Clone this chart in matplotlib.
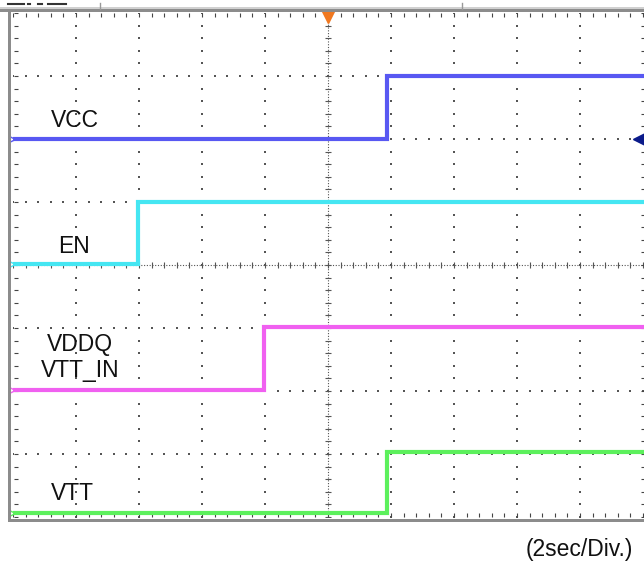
import matplotlib
matplotlib.use("Agg")
import matplotlib.pyplot as plt
import numpy as np

# scope screen: 10 horizontal divisions, 8 vertical divisions
channels = ["VCC", "EN", "VDDQ", "VTT"]
step_at = [5.94, 1.98, 3.98, 5.94]        # division where each rail turns on
low_level = [6.0, 4.02, 2.02, 0.07]       # divisions (ground reference of each channel)
high_level = [7.0, 5.0, 3.02, 1.03]
colors = ["#5858f2", "#45e6f2", "#f060f0", "#5cf05c"]
labels = ["VCC", "EN", "VDDQ\nVTT_IN", "VTT"]
label_pos = [(0.98, 6.19), (0.97, 4.19), (1.06, 2.22), (0.95, 0.27)]
time_note = "(2sec/Div.)"

W, H = 644, 566
X0, Y0, DIV = 13, 517, 63
XMAX = (W - X0) / DIV

plt.rcParams["font.family"] = ["Liberation Sans", "DejaVu Sans"]
fig = plt.figure(figsize=(W / 100, H / 100), dpi=100)
ax = fig.add_axes([X0 / W, (H - Y0) / H, (W - X0) / W, 8 * DIV / H])
ax.set_xlim(0, XMAX)
ax.set_ylim(0, 8)
ax.axis("off")

# grid dots on major lines
minor = np.arange(0, 10.01, 0.2)
minor_y = np.arange(0, 8.01, 0.2)
for gx in range(1, 10):
    if gx == 5:
        continue
    ax.scatter(np.full(len(minor_y), gx), minor_y, s=1.2, marker="s", color="#555555", lw=0, zorder=1)
for gy in range(1, 8):
    if gy == 4:
        continue
    ax.scatter(minor, np.full(len(minor), gy), s=1.2, marker="s", color="#555555", lw=0, zorder=1)

# centre cross with ticks
ax.plot([5, 5], [0, 8], ls=(0, (1, 1.5)), lw=0.8, color="#555555", zorder=1)
ax.plot([0, XMAX], [4, 4], ls=(0, (1, 1.5)), lw=0.8, color="#555555", zorder=1)
ax.scatter(np.full(len(minor_y), 5), minor_y, s=18, marker="_", color="#555555", lw=0.8, zorder=1)
ax.scatter(minor, np.full(len(minor), 4), s=18, marker="|", color="#555555", lw=0.8, zorder=1)

# border ticks
ax.scatter(minor, np.full(len(minor), 8 - 0.03), s=8, marker="|", color="#444444", lw=0.8, zorder=1)
ax.scatter(minor, np.full(len(minor), 0.03), s=8, marker="|", color="#444444", lw=0.8, zorder=1)
ax.scatter(np.full(len(minor_y), 0.04), minor_y, s=8, marker="_", color="#444444", lw=0.8, zorder=1)
ax.scatter(np.full(len(minor_y), XMAX - 0.02), minor_y, s=8, marker="_", color="#444444", lw=0.8, zorder=1)

# traces
for name, t, lo, hi, c in zip(channels, step_at, low_level, high_level, colors):
    ax.plot([0, t, XMAX], [lo, hi, hi], drawstyle="steps-post", color=c, lw=3.0,
            solid_joinstyle="miter", zorder=3)
    ax.plot([-0.02], [lo], marker=">", ms=5, color=c, mfc="none", mew=1.0, clip_on=False, zorder=4)

for txt, (tx, ty) in zip(labels, label_pos):
    ax.text(tx, ty, txt, fontsize=16.5, ha="center", va="baseline", color="#111111",
            linespacing=1.15, zorder=5)

# trigger markers
ax.plot([5], [7.93], marker="v", ms=8, color="#f07820", clip_on=False, zorder=5)
ax.plot([XMAX - 0.08], [low_level[0]], marker="<", ms=8, color="#0a1a8a", clip_on=False, zorder=5)

# frame (gray bezel on top, left, bottom)
bez = "#8c8c8c"
fig.add_artist(plt.Rectangle((0, (H - 12) / H), 1, 3 / H, color=bez, lw=0))
fig.add_artist(plt.Rectangle((0, (H - 9) / H), 1, 2 / H, color="#d0d0d0", lw=0))
fig.add_artist(plt.Rectangle((8 / W, (H - 522) / H), 3 / W, 512 / H, color=bez, lw=0))
fig.add_artist(plt.Rectangle((8 / W, (H - 522) / H), 1 - 8 / W, 3 / H, color=bez, lw=0))

# cropped scope header marks
for x1, x2 in [(8, 16), (18, 24), (28, 30), (38, 42), (48, 66)]:
    fig.add_artist(plt.Line2D([x1 / W, x2 / W], [(H - 4) / H] * 2, color="#333333", lw=1.5))
for xv in [100, 462]:
    fig.add_artist(plt.Line2D([xv / W] * 2, [(H - 9) / H, (H - 3) / H], color="#999999", lw=1))

fig.text(633 / W, (H - 556) / H, time_note, fontsize=16.5, ha="right", va="baseline", color="#111111")

fig.savefig("out.png", dpi=100)
